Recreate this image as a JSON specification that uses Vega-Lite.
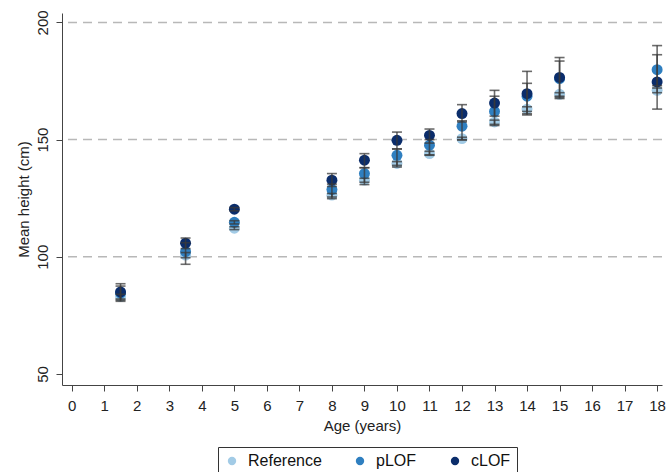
{
  "$schema": "https://vega.github.io/schema/vega-lite/v6.json",
  "width": 600,
  "height": 372,
  "autosize": {"type": "none"},
  "padding": {"left": 62, "top": 13, "right": 5, "bottom": 87},
  "background": "white",
  "config": {
    "view": {"stroke": null},
    "font": "Liberation Sans",
    "axis": {
      "domainColor": "#444444",
      "tickColor": "#444444",
      "labelColor": "#222222",
      "titleColor": "#222222",
      "labelFontSize": 15,
      "titleFontSize": 15,
      "titleFontWeight": "normal",
      "tickSize": 6,
      "grid": false,
      "labelOverlap": false
    }
  },
  "datasets": {
    "grid": [{"v": 100}, {"v": 150}, {"v": 200}],
    "pts": [
      {"age": 1.5, "group": "Reference", "mean": 83.0, "lo": 82.0, "hi": 84.0},
      {"age": 3.5, "group": "Reference", "mean": 100.7, "lo": 99.6, "hi": 101.8},
      {"age": 5, "group": "Reference", "mean": 112.2, "lo": 111.6, "hi": 112.8},
      {"age": 8, "group": "Reference", "mean": 126.3, "lo": 125.5, "hi": 127.0},
      {"age": 9, "group": "Reference", "mean": 132.7, "lo": 131.8, "hi": 133.5},
      {"age": 10, "group": "Reference", "mean": 139.8, "lo": 139.0, "hi": 140.6},
      {"age": 11, "group": "Reference", "mean": 144.0, "lo": 143.3, "hi": 145.0},
      {"age": 12, "group": "Reference", "mean": 150.4, "lo": 149.8, "hi": 151.0},
      {"age": 13, "group": "Reference", "mean": 157.5, "lo": 156.5, "hi": 158.3},
      {"age": 14, "group": "Reference", "mean": 163.0, "lo": 162.0, "hi": 164.0},
      {"age": 15, "group": "Reference", "mean": 169.3, "lo": 168.5, "hi": 170.0},
      {"age": 18, "group": "Reference", "mean": 171.0, "lo": 170.0, "hi": 172.0},
      {"age": 1.5, "group": "pLOF", "mean": 84.5, "lo": 81.5, "hi": 87.5},
      {"age": 3.5, "group": "pLOF", "mean": 102.2, "lo": 96.8, "hi": 106.0},
      {"age": 5, "group": "pLOF", "mean": 114.7, "lo": 114.0, "hi": 115.4},
      {"age": 8, "group": "pLOF", "mean": 128.7, "lo": 124.8, "hi": 131.0},
      {"age": 9, "group": "pLOF", "mean": 135.5, "lo": 130.8, "hi": 138.0},
      {"age": 10, "group": "pLOF", "mean": 143.3, "lo": 138.3, "hi": 146.0},
      {"age": 11, "group": "pLOF", "mean": 147.6, "lo": 143.5, "hi": 150.0},
      {"age": 12, "group": "pLOF", "mean": 155.7, "lo": 150.0, "hi": 158.0},
      {"age": 13, "group": "pLOF", "mean": 162.0, "lo": 156.0, "hi": 168.5},
      {"age": 14, "group": "pLOF", "mean": 168.5, "lo": 161.0, "hi": 174.0},
      {"age": 15, "group": "pLOF", "mean": 176.0, "lo": 167.5, "hi": 183.5},
      {"age": 18, "group": "pLOF", "mean": 179.8, "lo": 173.0, "hi": 186.2},
      {"age": 1.5, "group": "cLOF", "mean": 85.0, "lo": 81.0, "hi": 88.5},
      {"age": 3.5, "group": "cLOF", "mean": 105.8, "lo": 103.5, "hi": 108.0},
      {"age": 5, "group": "cLOF", "mean": 120.3, "lo": 119.6, "hi": 121.0},
      {"age": 8, "group": "cLOF", "mean": 132.7, "lo": 130.0, "hi": 135.5},
      {"age": 9, "group": "cLOF", "mean": 141.2, "lo": 138.0, "hi": 144.0},
      {"age": 10, "group": "cLOF", "mean": 149.7, "lo": 146.0, "hi": 153.2},
      {"age": 11, "group": "cLOF", "mean": 151.8, "lo": 148.5, "hi": 154.5},
      {"age": 12, "group": "cLOF", "mean": 161.1, "lo": 157.5, "hi": 164.9},
      {"age": 13, "group": "cLOF", "mean": 165.6, "lo": 160.0, "hi": 171.0},
      {"age": 14, "group": "cLOF", "mean": 169.6, "lo": 160.5, "hi": 179.1},
      {"age": 15, "group": "cLOF", "mean": 176.5, "lo": 168.0, "hi": 185.0},
      {"age": 18, "group": "cLOF", "mean": 174.6, "lo": 163.0, "hi": 190.1}
    ]
  },
  "layer": [
    {
      "data": {"name": "grid"},
      "mark": {"type": "rule", "strokeDash": [9, 6], "color": "#b8b8b8", "strokeWidth": 1.5},
      "encoding": {
        "y": {
          "field": "v", "type": "quantitative",
          "scale": {"domain": [45.3, 204], "nice": false, "zero": false},
          "axis": {"title": "Mean height (cm)", "values": [50, 100, 150, 200], "labelAngle": -90, "labelAlign": "center", "labelBaseline": "bottom", "labelPadding": 6, "titlePadding": 4}
        }
      }
    },
    {
      "data": {"name": "pts"},
      "mark": {"type": "point", "filled": true, "opacity": 1, "size": 120, "shape": "circle"},
      "encoding": {
        "x": {
          "field": "age", "type": "quantitative",
          "scale": {"domain": [-0.3, 18.15], "nice": false, "zero": false},
          "axis": {"title": "Age (years)", "values": [0,1,2,3,4,5,6,7,8,9,10,11,12,13,14,15,16,17,18], "tickCount": 19, "labelPadding": 7, "titlePadding": 5}
        },
        "y": {"field": "mean", "type": "quantitative"},
        "color": {
          "field": "group", "type": "nominal",
          "scale": {"domain": ["Reference", "pLOF", "cLOF"], "range": ["#a2cbe6", "#2f7fc0", "#0b2d6b"]},
          "legend": {
            "title": null, "orient": "none", "legendX": 156, "legendY": 434,
            "direction": "horizontal", "columns": 3, "columnPadding": 30,
            "strokeColor": "#333333", "padding": 6,
            "labelFontSize": 16, "labelColor": "#111111", "symbolSize": 70, "symbolType": "circle",
            "labelOffset": 8
          }
        }
      }
    },
    {
      "data": {"name": "pts"},
      "mark": {"type": "rule", "color": "#3a3a3a", "opacity": 0.75, "strokeWidth": 1.6},
      "encoding": {
        "x": {"field": "age", "type": "quantitative", "axis": {"title": "Age (years)", "values": [0,1,2,3,4,5,6,7,8,9,10,11,12,13,14,15,16,17,18], "tickCount": 19, "labelPadding": 7, "titlePadding": 5}},
        "y": {"field": "lo", "type": "quantitative"},
        "y2": {"field": "hi"}
      }
    },
    {
      "data": {"name": "pts"},
      "mark": {"type": "tick", "orient": "horizontal", "color": "#3a3a3a", "opacity": 0.75, "size": 10, "thickness": 1.6},
      "encoding": {
        "x": {"field": "age", "type": "quantitative", "axis": {"title": "Age (years)", "values": [0,1,2,3,4,5,6,7,8,9,10,11,12,13,14,15,16,17,18], "tickCount": 19, "labelPadding": 7, "titlePadding": 5}},
        "y": {"field": "lo", "type": "quantitative"}
      }
    },
    {
      "data": {"name": "pts"},
      "mark": {"type": "tick", "orient": "horizontal", "color": "#3a3a3a", "opacity": 0.75, "size": 10, "thickness": 1.6},
      "encoding": {
        "x": {"field": "age", "type": "quantitative", "axis": {"title": "Age (years)", "values": [0,1,2,3,4,5,6,7,8,9,10,11,12,13,14,15,16,17,18], "tickCount": 19, "labelPadding": 7, "titlePadding": 5}},
        "y": {"field": "hi", "type": "quantitative"}
      }
    }
  ]
}
